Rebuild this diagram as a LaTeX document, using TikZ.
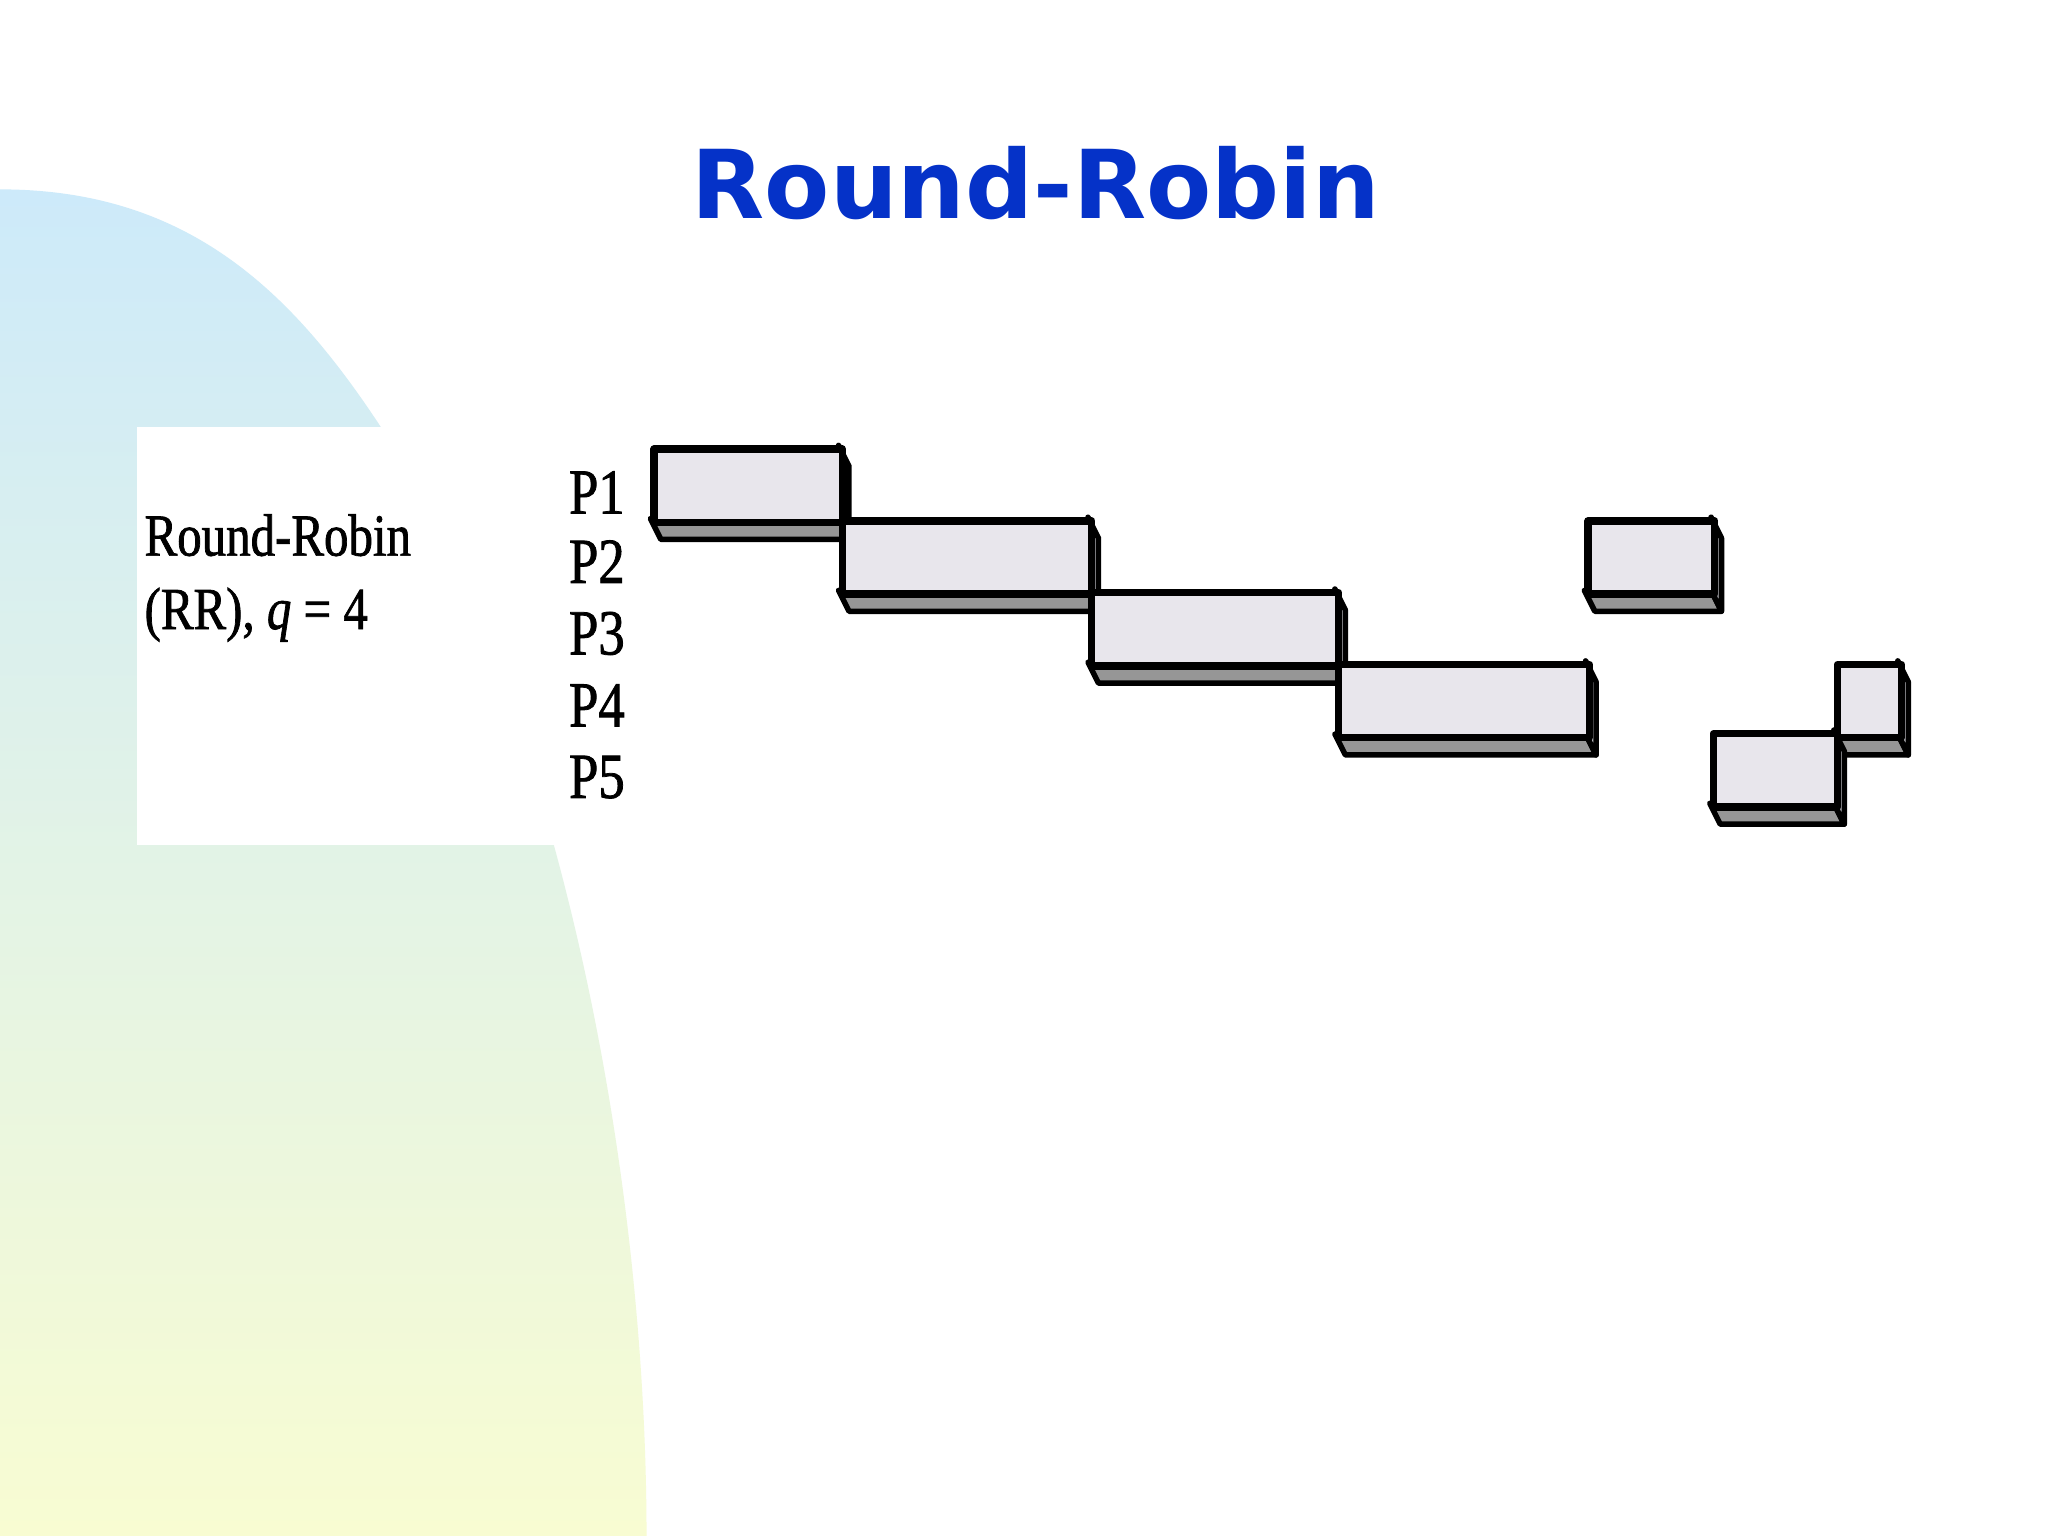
\documentclass[tikz,border=0pt]{standalone}
\usepackage{fontspec}
\setmainfont{Liberation Serif}
\newfontfamily\titlefont{DejaVu Sans}
\newfontfamily\cond[FakeStretch=0.82,FakeBold=1.2]{Liberation Serif}
\definecolor{ttl}{RGB}{5,50,200}
\definecolor{frontc}{RGB}{232,230,236}
\definecolor{botc}{RGB}{150,150,150}
\definecolor{sidec}{RGB}{190,190,195}
\definecolor{bgtop}{RGB}{205,234,250}
\definecolor{bgbot}{RGB}{248,252,210}
\tikzset{
  lbl/.style={font=\cond\fontsize{14}{14}\selectfont, inner sep=0pt},
  bx/.style={draw=black, line width=1.6pt, line join=round}
}
\newcommand{\pbox}[5]{% name x1 y1 x2 y2 (display px, y down)
  \fill[botc,draw=black,line width=1.2pt,line join=round] (#2/100,-#5/100) -- (#4/100,-#5/100) -- (#4/100+0.08,-#5/100-0.16) -- (#2/100+0.08,-#5/100-0.16) -- cycle;
  \fill[sidec,draw=black,line width=1.2pt,line join=round] (#4/100,-#3/100) -- (#4/100+0.08,-#3/100-0.16) -- (#4/100+0.08,-#5/100-0.16) -- (#4/100,-#5/100) -- cycle;
  \node[bx,fill=frontc,minimum width={(#4-#2)*0.1mm},minimum height={(#5-#3)*0.1mm},inner sep=0pt,anchor=north west] (#1) at (#2/100,-#3/100) {};
}
\begin{document}
\begin{tikzpicture}
\useasboundingbox (0,0) rectangle (15.68,-11.76);
\fill[white] (0,0) rectangle (15.68,-11.76);
\shade[top color=bgtop,bottom color=bgbot] (0,-1.45) .. controls (1.5,-1.45) and (2.3,-2.3) .. (3.0,-3.4) .. controls (4.3,-5.6) and (4.95,-9) .. (4.95,-11.76) -- (0,-11.76) -- cycle;
\fill[white] (1.05,-3.27) rectangle (4.28,-6.47);
\node[font=\titlefont\bfseries\fontsize{20.7}{21}\selectfont, text=ttl] (title) at (7.93,-1.4) {Round-Robin};
\node[font=\cond\fontsize{13}{16}\selectfont, align=left, anchor=north west, inner sep=0pt] (rr) at (1.1,-3.93) {Round-Robin\\(RR), \textit{q} = 4};
\node[lbl] (p1) at (4.57,-3.77) {P1};
\node[lbl] (p2) at (4.57,-4.3) {P2};
\node[lbl] (p3) at (4.57,-4.85) {P3};
\node[lbl] (p4) at (4.57,-5.4) {P4};
\node[lbl] (p5) at (4.57,-5.95) {P5};
\pbox{b1}{498}{341}{642}{397}
\pbox{b2}{642}{396}{833}{452}
\pbox{b3}{833}{451}{1022}{507}
\pbox{b4}{1022}{506}{1214}{562}
\pbox{b6}{1213}{396}{1310}{452}
\pbox{b7}{1404}{506}{1453}{562}
\pbox{b5}{1309}{559}{1404}{615}
\end{tikzpicture}
\end{document}
